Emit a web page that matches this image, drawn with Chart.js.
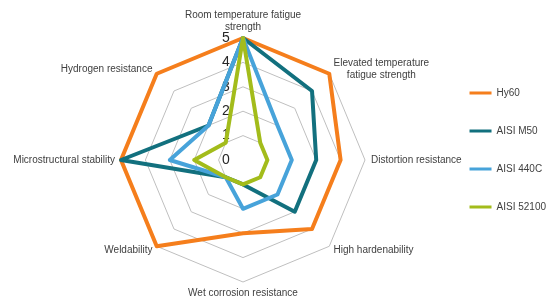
<!DOCTYPE html>
<html>
<head>
<meta charset="utf-8">
<script src="https://cdn.jsdelivr.net/npm/chart.js@4.4.0/dist/chart.umd.min.js"></script>
<style>
  html, body { margin: 0; padding: 0; background: #fff; }
  #wrap { width: 552px; height: 303px; }
</style>
</head>
<body>
<div id="wrap"><canvas id="chart"></canvas></div>
<script>
// ---- data ----
const criteria = [
  ["Room temperature fatigue", "strength"],
  ["Elevated temperature", "fatigue strength"],
  "Distortion resistance",
  "High hardenability",
  "Wet corrosion resistance",
  "Weldability",
  "Microstructural stability",
  "Hydrogen resistance"
];
const seriesNames = ["Hy60", "AISI M50", "AISI 440C", "AISI 52100"];
const hy60   = [5, 5, 4, 4, 3, 5, 5, 5];
const m50    = [5, 4, 3, 3, 1, 1, 5, 2];
const c440   = [5, 2, 2, 2, 2, 1, 3, 2];
const s52100 = [5, 1, 1, 1, 1, 1, 2, 1];
const tickValues = [0, 1, 2, 3, 4, 5];

const colors = ["#F57E1C", "#12707E", "#47A3DA", "#A3BC1B"];
const allSeries = [hy60, m50, c440, s52100];
const FONT = "'Liberation Sans', Arial, sans-serif";

// Excel-style axis text: tick numbers left of the vertical axis,
// category names placed around the outer ring (Chart.js would shrink the radar to fit them)
const radarText = {
  id: "radarText",
  beforeDatasetsDraw(chart) {
    const r = chart.scales.r;
    const ctx = chart.ctx;
    ctx.save();
    ctx.textAlign = "center";
    ctx.textBaseline = "middle";

    ctx.font = "14px " + FONT;
    ctx.fillStyle = "#262626";
    tickValues.forEach(v => {
      const d = r.getDistanceFromCenterForValue(v);
      ctx.fillText(String(v), r.xCenter - 17, r.yCenter - d);
    });

    ctx.font = "10px " + FONT;
    ctx.fillStyle = "#404040";
    const lh = 12;
    chart.data.labels.forEach((lab, i) => {
      const lines = Array.isArray(lab) ? lab : [lab];
      let p = r.getPointPosition(i, r.drawingArea + 6);
      const dx = p.x - r.xCenter;
      const vertical = Math.abs(dx) < 1;
      if (vertical) p = r.getPointPosition(i, r.drawingArea + 5);
      const dy = p.y - r.yCenter;
      const bw = Math.max(...lines.map(t => ctx.measureText(t).width));
      const bh = lines.length * lh;
      let cx = p.x;
      if (!vertical) cx = dx > 0 ? p.x + bw / 2 : p.x - bw / 2;
      let top = p.y - bh / 2;
      if (vertical) top = dy < 0 ? p.y - bh : p.y;
      lines.forEach((t, k) => ctx.fillText(t, cx, top + lh * k + lh / 2));
    });
    ctx.restore();
  }
};

new Chart(document.getElementById("chart"), {
  type: "radar",
  data: {
    labels: criteria,
    datasets: allSeries.map((s, i) => ({
      label: seriesNames[i],
      data: s,
      borderColor: colors[i],
      backgroundColor: colors[i],
      borderWidth: 4,
      borderJoinStyle: "round",
      pointRadius: 0,
      fill: false,
      order: allSeries.length - i
    }))
  },
  options: {
    responsive: true,
    maintainAspectRatio: false,
    animation: false,
    layout: { padding: { left: 46, top: 38, bottom: 21, right: -4 } },
    plugins: {
      tooltip: { enabled: false },
      legend: {
        position: "right",
        align: "start",
        title: { display: true, text: "", font: { size: 10 }, padding: { top: 10, bottom: 0 } },
        labels: {
          boxWidth: 22,
          boxHeight: 3,
          padding: 28,
          color: "#404040",
          font: { family: FONT, size: 10 },
          sort: (a, b) => a.datasetIndex - b.datasetIndex,
          generateLabels(chart) {
            return Chart.defaults.plugins.legend.labels.generateLabels(chart)
              .map(l => Object.assign(l, { lineWidth: 0 }));
          }
        }
      }
    },
    scales: {
      r: {
        min: 0,
        max: 5,
        ticks: { stepSize: 1, display: false },
        grid: { color: "#BFBFBF", lineWidth: 1 },
        angleLines: { display: false },
        pointLabels: { display: false }
      }
    }
  },
  plugins: [radarText]
});
</script>
</body>
</html>
